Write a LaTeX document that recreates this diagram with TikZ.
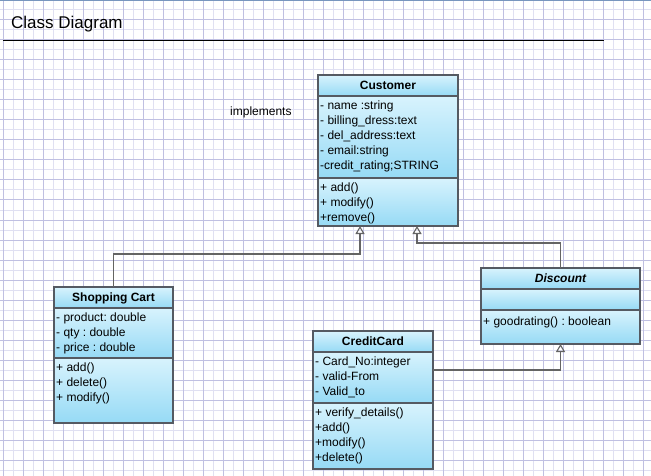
\documentclass[tikz,border=0pt]{standalone}
\usepackage{fontspec}
\setmainfont{Liberation Sans}
\usetikzlibrary{positioning,arrows.meta}

\definecolor{boxtop}{RGB}{216,243,253}
\definecolor{boxbot}{RGB}{150,218,245}
\definecolor{boxline}{RGB}{85,90,98}
\definecolor{linkgray}{RGB}{100,100,100}
\definecolor{gridmajor}{RGB}{192,192,226}
\definecolor{gridminor}{RGB}{224,224,242}

\tikzset{
    classpart/.style={draw=boxline, line width=1.6pt, top color=boxtop, bottom color=boxbot, anchor=north west, inner sep=0pt, outer sep=0pt},
    classhead/.style={classpart, font=\bfseries, text height=9pt, text depth=1.5pt, minimum height=21pt},
    members/.style={anchor=north west, align=left, inner xsep=2pt, inner ysep=5pt, execute at begin node=\strut},
    gen/.style={draw=linkgray, line width=1.6pt, -{Triangle[open, length=8pt, width=9pt, line width=1.1pt]}},
}

\begin{document}
\fontsize{12}{15}\selectfont\frenchspacing
\begin{tikzpicture}[x=1pt, y=-1pt]
    \useasboundingbox (0,0) rectangle (651,476);
    \fill[white] (0,0) rectangle (651,476);
    \foreach \gx in {13,33,...,653} \draw[gridminor, line width=1pt] (\gx,0) -- (\gx,476);
    \foreach \gy in {10,30,...,470} \draw[gridminor, line width=1pt] (0,\gy) -- (651,\gy);
    \foreach \gx in {3,23,...,643} \draw[gridmajor, line width=1pt] (\gx,0) -- (\gx,476);
    \foreach \gy in {20,40,...,460} \draw[gridmajor, line width=1pt] (0,\gy) -- (651,\gy);
    \draw[color={rgb,255:red,120;green,150;blue,190}, line width=1pt] (0,0.5) -- (651,0.5);

    \node[anchor=base west, inner sep=0pt, font=\fontsize{17}{20}\selectfont] (title) at (11,29) {Class Diagram};
    \draw[black, line width=0.9pt] (3,40.5) -- (604,40.5);

    \node[anchor=base west, inner sep=0pt] (impl) at (230,116) {implements};

    % Customer
    \node[classhead, minimum width=140pt] (cust) at (318,75) {Customer};
    \node[classpart, minimum width=140pt, minimum height=82pt, below=0pt of cust] (custa) {};
    \node[classpart, minimum width=140pt, minimum height=48pt, below=0pt of custa] (custm) {};
    \node[members] (custat) at (custa.north west) {- name :string\\- billing\_dress:text\\- del\_address:text\\- email:string\\-credit\_rating;STRING};
    \node[members] (custmt) at (custm.north west) {+ add()\\+ modify()\\+remove()};

    % Shopping Cart
    \node[classhead, minimum width=119pt] (cart) at (54,287) {Shopping Cart};
    \node[classpart, minimum width=119pt, minimum height=50pt, below=0pt of cart] (carta) {};
    \node[classpart, minimum width=119pt, minimum height=65pt, below=0pt of carta] (cartm) {};
    \node[members] (cartat) at (carta.north west) {- product: double\\- qty : double\\- price : double};
    \node[members] (cartmt) at (cartm.north west) {+ add()\\+ delete()\\+ modify()};

    % Discount
    \node[classhead, minimum width=159pt, font=\bfseries\itshape] (disc) at (481,268) {Discount};
    \node[classpart, minimum width=159pt, minimum height=21pt, below=0pt of disc] (disca) {};
    \node[classpart, minimum width=159pt, minimum height=34pt, below=0pt of disca] (discm) {};
    \node[members] (discmt) at (discm.north west) {+ goodrating() : boolean};

    % CreditCard
    \node[classhead, minimum width=120pt] (card) at (313,331) {CreditCard};
    \node[classpart, minimum width=120pt, minimum height=51pt, below=0pt of card] (carda) {};
    \node[classpart, minimum width=120pt, minimum height=66pt, below=0pt of carda] (cardm) {};
    \node[members] (cardat) at (carda.north west) {- Card\_No:integer\\- valid-From\\- Valid\_to};
    \node[members] (cardmt) at (cardm.north west) {+ verify\_details()\\+add()\\+modify()\\+delete()};

    \draw[gen] (cart.north) -- ++(0,-33) -| ([xshift=-28pt]custm.south);
    \draw[gen] (disc.north) -- ++(0,-25) -| ([xshift=29pt]custm.south);
    \draw[gen] ([yshift=7.5pt]carda.east) -| (discm.south);
\end{tikzpicture}
\end{document}
